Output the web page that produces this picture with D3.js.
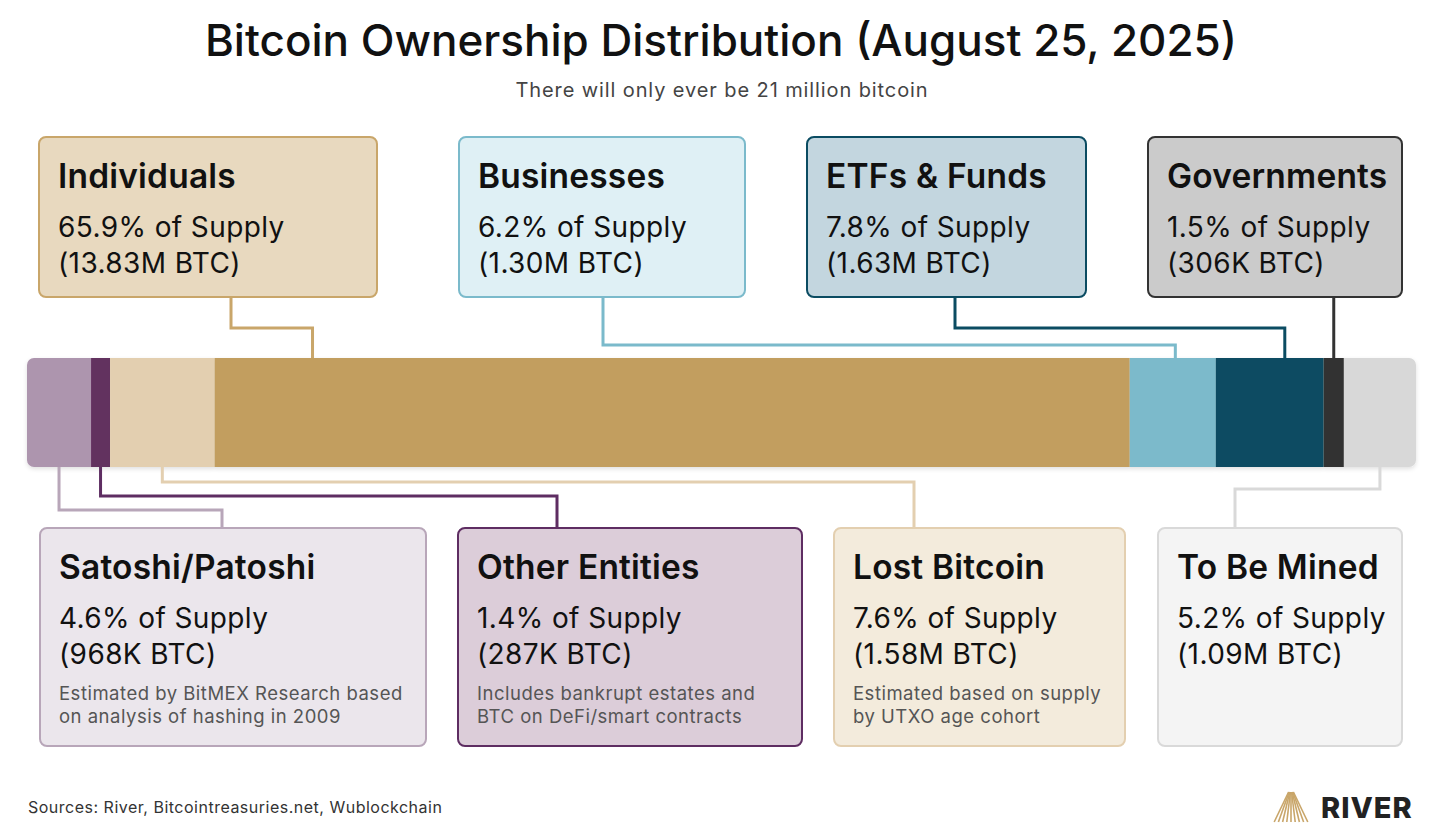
<!DOCTYPE html>
<html>
<head>
<meta charset="utf-8">
<script src="https://cdn.jsdelivr.net/npm/d3@7"></script>
<style>
  body { margin: 0; background: #fff; }
  svg { font-family: Inter, "Noto Sans", sans-serif; }
</style>
</head>
<body>
<svg id="chart" width="1448" height="837"></svg>
<script>
// data, in bar order (left to right)
const categories = ['Satoshi/Patoshi', 'Other Entities', 'Lost Bitcoin', 'Individuals',
                    'Businesses', 'ETFs & Funds', 'Governments', 'To Be Mined'];
const btcHeld = [968, 287, 1580, 13830, 1300, 1630, 306, 1090];   // thousands of BTC
const shareLabels = ['4.6%', '1.4%', '7.6%', '65.9%', '6.2%', '7.8%', '1.5%', '5.2%'];
const btcLabels = ['968K', '287K', '1.58M', '13.83M', '1.30M', '1.63M', '306K', '1.09M'];
const notes = [
  ['Estimated by BitMEX Research based', 'on analysis of hashing in 2009'],
  ['Includes bankrupt estates and', 'BTC on DeFi/smart contracts'],
  ['Estimated based on supply', 'by UTXO age cohort'],
  [], [], [], [], []
];

// colours: segment, box fill, box stroke / connector
const segColor  = ['#ad95ae', '#62305f', '#e3cfb0', '#c29e5f', '#7bbacb', '#0b4c62', '#333333', '#d8d8d8'];
const boxFill   = ['#ebe6ec', '#dccdd9', '#f3ebdc', '#e8d9bf', '#dff0f5', '#c3d6df', '#cbcbcb', '#f4f4f4'];
const lineColor = ['#b8a6b9', '#5e2d62', '#e3cfb0', '#c9a66a', '#7bbacb', '#0b4c62', '#333333', '#d9d9d9'];

// box layout: x, width, top/bottom row, elbow y, attach fraction on segment, attach x on box
const layout = [
  {x: 40,   w: 386, row: 'bottom', elbow: 510, frac: 0.5,  attach: 222},
  {x: 458,  w: 344, row: 'bottom', elbow: 496, frac: 0.5,  attach: 557},
  {x: 834,  w: 291, row: 'bottom', elbow: 482, frac: 0.5,  attach: 914},
  {x: 39,   w: 338, row: 'top',    elbow: 328, frac: 0.107, attach: 231},
  {x: 459,  w: 286, row: 'top',    elbow: 345, frac: 0.53, attach: 603},
  {x: 807,  w: 279, row: 'top',    elbow: 328, frac: 0.64, attach: 955},
  {x: 1148, w: 254, row: 'top',    elbow: null, frac: 0.5, attach: null},
  {x: 1158, w: 244, row: 'bottom', elbow: 489, frac: 0.5,  attach: 1235}
];

const svg = d3.select('#chart');
const barTop = 358, barH = 109, topBoxY = 137, topBoxH = 160, botBoxY = 528, botBoxH = 218;

// title
svg.append('text').attr('x', 721).attr('y', 56).attr('text-anchor', 'middle')
  .attr('font-size', 44).attr('font-weight', 500).attr('fill', '#111')
  .text('Bitcoin Ownership Distribution (August 25, 2025)');
svg.append('text').attr('x', 722).attr('y', 97).attr('text-anchor', 'middle')
  .attr('font-size', 20).attr('letter-spacing', 0.9).attr('fill', '#444')
  .text('There will only ever be 21 million bitcoin');

// stacked bar
let cum = 0;
const segs = btcHeld.map((v, i) => { const s = {i: i, x0: cum, x1: cum + v}; cum += v; return s; });
const x = d3.scaleLinear().domain([0, cum]).range([27, 1416]);

const defs = svg.append('defs');
defs.append('clipPath').attr('id', 'barClip')
  .append('rect').attr('x', 27).attr('y', barTop).attr('width', 1389).attr('height', barH).attr('rx', 7);
const shadow = defs.append('filter').attr('id', 'shadow').attr('x', '-5%').attr('y', '-20%').attr('width', '110%').attr('height', '150%');
shadow.append('feDropShadow').attr('dx', 0).attr('dy', 2).attr('stdDeviation', 2).attr('flood-color', '#000').attr('flood-opacity', 0.12);

svg.append('g').attr('filter', 'url(#shadow)')
  .append('g').attr('clip-path', 'url(#barClip)')
  .selectAll('rect').data(segs).join('rect')
  .attr('x', d => x(d.x0)).attr('y', barTop)
  .attr('width', d => x(d.x1) - x(d.x0)).attr('height', barH)
  .attr('fill', d => segColor[d.i]);

// connectors
svg.append('g').selectAll('path').data(segs).join('path')
  .attr('fill', 'none').attr('stroke-width', 3)
  .attr('stroke', d => lineColor[d.i])
  .attr('d', d => {
    const L = layout[d.i];
    const sx = x(d.x0) + (x(d.x1) - x(d.x0)) * L.frac;
    if (L.row === 'top') {
      if (L.elbow === null) return `M${sx},${topBoxY + topBoxH}V${barTop}`;
      return `M${L.attach},${topBoxY + topBoxH}V${L.elbow}H${sx}V${barTop}`;
    }
    return `M${sx},${barTop + barH}V${L.elbow}H${L.attach}V${botBoxY}`;
  });

// label boxes
const boxes = svg.append('g').selectAll('g').data(segs).join('g')
  .attr('transform', d => {
    const L = layout[d.i];
    return `translate(${L.x},${L.row === 'top' ? topBoxY : botBoxY})`;
  });

boxes.append('rect')
  .attr('x', 0).attr('y', 0).attr('rx', 7)
  .attr('width', d => layout[d.i].w)
  .attr('height', d => layout[d.i].row === 'top' ? topBoxH : botBoxH)
  .attr('fill', d => boxFill[d.i])
  .attr('stroke', d => lineColor[d.i]).attr('stroke-width', 2);

boxes.append('text').attr('x', 19).attr('y', 51)
  .attr('font-size', 33.5).attr('letter-spacing', 0.2).attr('font-weight', 600).attr('fill', '#111')
  .text(d => categories[d.i]);
boxes.append('text').attr('x', 19).attr('y', 100)
  .attr('font-size', 28).attr('letter-spacing', 0.4).attr('fill', '#111')
  .text(d => shareLabels[d.i] + ' of Supply');
boxes.append('text').attr('x', 19).attr('y', 136)
  .attr('font-size', 28).attr('letter-spacing', 0.4).attr('fill', '#111')
  .text(d => '(' + btcLabels[d.i] + ' BTC)');
boxes.append('g').selectAll('text').data(d => notes[d.i]).join('text')
  .attr('x', 19).attr('y', (t, j) => 172 + j * 23)
  .attr('font-size', 18.5).attr('letter-spacing', 0.5).attr('fill', '#555')
  .text(t => t);

// footer
svg.append('text').attr('x', 28).attr('y', 813)
  .attr('font-size', 16).attr('letter-spacing', 0.5).attr('fill', '#333')
  .text('Sources: River, Bitcointreasuries.net, Wublockchain');

// River logo
const logo = svg.append('g').attr('stroke', '#c9a66a').attr('stroke-width', 1.6);
d3.range(-4, 5).forEach(k => {
  logo.append('line').attr('x1', 1291 + k * 0.6).attr('y1', 792)
    .attr('x2', 1291 + k * 4.2).attr('y2', 822);
});
svg.append('text').attr('x', 1321).attr('y', 818)
  .attr('font-size', 29).attr('font-weight', 800).attr('fill', '#222').attr('letter-spacing', 1)
  .text('RIVER');
</script>
</body>
</html>
